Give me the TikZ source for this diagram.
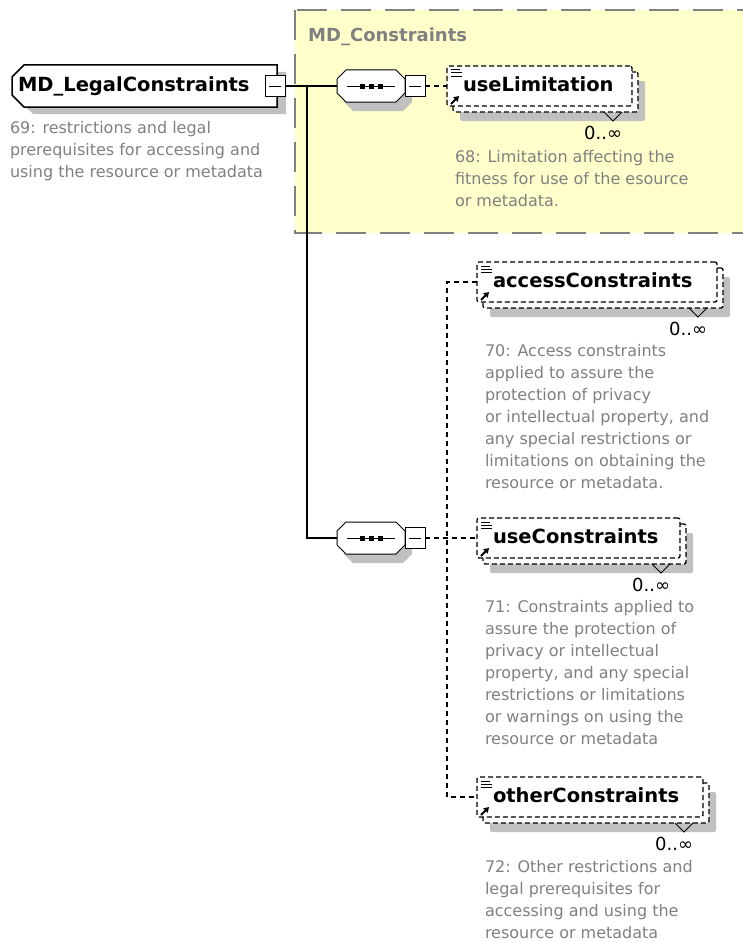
\documentclass[tikz,border=0pt]{standalone}
\usepackage{fontspec}
\setmainfont{DejaVu Sans}
\usetikzlibrary{shapes.misc,arrows.meta}

\definecolor{shadowgray}{HTML}{C0C0C0}
\definecolor{descgray}{HTML}{808080}
\definecolor{groupfill}{HTML}{FFFFCC}
\definecolor{groupedge}{HTML}{808080}

\tikzset{
  labelfont/.style={font=\fontsize{19.5pt}{22pt}\selectfont\bfseries},
  rootbox/.style={chamfered rectangle,chamfered rectangle corners={north west,south west},
    chamfered rectangle xsep=6pt,chamfered rectangle ysep=6pt,
    draw,fill=white,line width=1.5,minimum height=42,inner xsep=0,inner ysep=0,outer sep=0,
    text height=14,text depth=4,align=left,labelfont,
    preaction={fill=shadowgray,transform canvas={shift={(9pt,-7pt)}}}},
  minusbox/.style={draw,fill=white,line width=1,minimum width=20,minimum height=21,
    inner sep=0,outer sep=0,
    path picture={\draw ([xshift=4pt]path picture bounding box.west)
      -- ([xshift=-4pt]path picture bounding box.east);}},
  seqbox/.style={rectangle,minimum width=68,minimum height=32,inner sep=0,outer sep=0},
  elembox/.style={draw,dash pattern=on 5pt off 3pt,line width=1.3,fill=white,rounded corners=2pt,
    minimum height=40,inner xsep=16,inner ysep=0,outer sep=0,text height=14,text depth=4,
    align=left,labelfont,
    preaction={fill=shadowgray,transform canvas={shift={(13pt,-15pt)}}},
    preaction={draw,fill=white,transform canvas={shift={(6pt,-6pt)}}}},
  descnode/.style={anchor=north west,inner sep=0,outer sep=0,align=left,text=descgray,
    font=\fontsize{16pt}{22pt}\selectfont},
  multnode/.style={anchor=east,inner sep=0,outer sep=0,font=\fontsize{18pt}{20pt}\selectfont},
  solidline/.style={line width=1.2},
  dashline/.style={line width=1.2,dash pattern=on 5pt off 4pt}
}

\begin{document}
\begin{tikzpicture}[x=1pt,y=-1pt,line join=miter]
\useasboundingbox (0,0) rectangle (742,942);

% group box
\draw[fill=groupfill,draw=groupedge,line width=1.5,dash pattern=on 30pt off 14pt]
  (295,10) rectangle (748,233);
\node[anchor=west,inner sep=0,text=groupedge,font=\fontsize{18pt}{20pt}\selectfont\bfseries]
  (grouptitle) at (308,37) {MD\_Constraints};

% root element
\node[rootbox,text width=253,anchor=west] (root) at (12,86) {MD\_LegalConstraints};
\node[minusbox] (rootm) at (275,86) {};
\node[descnode] (rootdesc) at (10,121.5)
  {69: restrictions and legal\\prerequisites for accessing and\\using the resource or metadata};

% sequences
\node[seqbox,anchor=west] (seqA) at (337,86) {};
\node[seqbox,anchor=west] (seqB) at (337,538) {};
\foreach \s in {seqA,seqB} {
  \begin{scope}[shift={(\s.center)}]
    \fill[shadowgray,shift={(7,9)}] (-25,-16) -- (25,-16) -- (34,-7) -- (34,7)
      -- (25,16) -- (-25,16) -- (-34,7) -- (-34,-7) -- cycle;
    \filldraw[fill=white,line width=1] (-25,-16) -- (25,-16) -- (34,-7) -- (34,7)
      -- (25,16) -- (-25,16) -- (-34,7) -- (-34,-7) -- cycle;
    \draw[line width=1] (-24,0) -- (24,0);
    \foreach \d in {-9,0,9}
      \fill (\d-2.5,-2.5) rectangle (\d+2.5,2.5);
  \end{scope}
}
\node[minusbox,anchor=west] (seqAm) at (seqA.east) {};
\node[minusbox,anchor=west] (seqBm) at (seqB.east) {};

% child elements
\node[elembox,text width=153,anchor=west] (limit) at (447,86) {useLimitation};
\node[elembox,text width=208,anchor=west] (access) at (477,282) {accessConstraints};
\node[elembox,text width=171,anchor=west] (usecon) at (477,538) {useConstraints};
\node[elembox,text width=194,anchor=west] (other) at (477,797) {otherConstraints};

\foreach \e in {limit,access,usecon,other} {
  \draw[line width=1] ([shift={(4,4)}]\e.north west) -- ++(9,0)
    ([shift={(4,7)}]\e.north west) -- ++(11,0)
    ([shift={(4,10)}]\e.north west) -- ++(11,0);
  \draw[line width=2,-{Triangle[length=5pt,width=6pt]}]
    ([shift={(4,38)}]\e.north west) -- ++(8,-8);
  \draw[line width=1] ([shift={(-28,6)}]\e.south east) -- ++(9,9) -- ++(9,-9);
  \node[multnode] (\e-mult) at ([shift={(-10,27)}]\e.south east) {0..∞};
}

\node[descnode] (limitdesc) at (455,150.5)
  {68: Limitation affecting the\\fitness for use of the esource\\or metadata.};
\node[descnode] (accessdesc) at (485,344.5)
  {70: Access constraints\\applied to assure the\\protection of privacy\\or intellectual property, and\\any special restrictions or\\limitations on obtaining the\\resource or metadata.};
\node[descnode] (usecondesc) at (485,600.5)
  {71: Constraints applied to\\assure the protection of\\privacy or intellectual\\property, and any special\\restrictions or limitations\\or warnings on using the\\resource or metadata};
\node[descnode] (otherdesc) at (485,860.5)
  {72: Other restrictions and\\legal prerequisites for\\accessing and using the\\resource or metadata};

% connectors
\coordinate (trunk) at (307,86);
\coordinate (fork) at (447,538);
\draw[solidline] (rootm.east) -- (seqA.west);
\draw[solidline] (trunk) |- (seqB.west);
\draw[dashline] (seqAm.east) -- (limit.west);
\draw[dashline] (seqBm.east) -- (usecon.west);
\draw[dashline] (access.west) -| (fork) |- (other.west);
\end{tikzpicture}
\end{document}
